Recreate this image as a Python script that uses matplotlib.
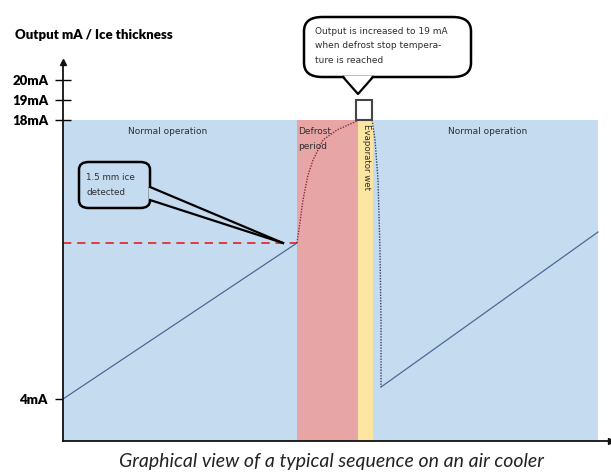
import matplotlib
matplotlib.use("Agg")
import matplotlib.pyplot as plt
from matplotlib.patches import FancyBboxPatch, Polygon, Rectangle

# ---------------- data ----------------
tick_values = [18, 19, 20]
tick_labels = ["18mA", "19mA", "20mA"]
low_tick_value = [4]
low_tick_label = ["4mA"]

# phases (time units, 0..100)
normal1 = (0.0, 43.74)
defrost = (43.74, 55.14)
evap_wet = (55.14, 57.94)
normal2 = (57.94, 100.0)
top_mA = 18

# ice detection level
ice_level = 11.83

# normal operation ramp 1
ramp1_t = [0.0, 43.74]
ramp1_mA = [4.0, 11.83]

# defrost rise (dotted)
defrost_t = [43.74, 44.30, 44.86, 45.79, 46.73, 48.60, 51.21, 54.95]
defrost_mA = [11.83, 12.88, 13.99, 15.24, 15.99, 17.0, 17.5, 17.95]

# 19 mA step
step_t = (54.77, 57.76)
step_mA = (18, 19)

# drop after wet period (dotted)
drop_t = [57.76, 58.32, 58.88, 59.25, 59.44, 59.44]
drop_mA = [18.0, 17.0, 14.99, 11.48, 7.97, 4.6]

# normal operation ramp 2
ramp2_t = [59.44, 100.0]
ramp2_mA = [4.6, 12.38]

# ---------------- style ----------------
W, H = 611, 474
blue = "#C5DBEF"
pink = "#E8A5A6"
yellow = "#FDE6A2"
font = "Lato"

fig = plt.figure(figsize=(W / 100, H / 100), dpi=100)
ax = fig.add_axes([63 / W, (H - 441) / H, (611 - 63) / W, (441 - 62) / H])
ax.set_xlim(0, 102.43)
ax.set_ylim(1.893, 20.91)
ybot = 1.893

# background bands
ax.fill_between(normal1, ybot, top_mA, color=blue, lw=0, zorder=0)
ax.fill_between(defrost, ybot, top_mA, color=pink, lw=0, zorder=0)
ax.fill_between(evap_wet, ybot, top_mA, color=yellow, lw=0, zorder=0)
ax.fill_between(normal2, ybot, top_mA, color=blue, lw=0, zorder=0)

# lines
ax.plot(ramp1_t, ramp1_mA, color="#4C6A95", lw=0.9, zorder=2)
ax.plot([0, normal1[1]], [ice_level, ice_level], color="#E32222", lw=1.2,
        dashes=(5, 3.5), zorder=2)
ax.plot(defrost_t, defrost_mA, color="#8A2C3A", lw=1.0, ls=(0, (1, 1)), zorder=3)
ax.add_patch(Rectangle((step_t[0], step_mA[0]), step_t[1] - step_t[0],
                       step_mA[1] - step_mA[0], fc="white", ec="#444444",
                       lw=1.5, zorder=3, clip_on=False))
ax.plot(drop_t, drop_mA, color="#34455E", lw=1.0, ls=(0, (1, 1)), zorder=3)
ax.plot(ramp2_t, ramp2_mA, color="#4C6A95", lw=0.9, zorder=2)

# axes styling
for s in ["top", "right"]:
    ax.spines[s].set_visible(False)
for s in ["left", "bottom"]:
    ax.spines[s].set_linewidth(1.3)
    ax.spines[s].set_color("#111111")
ax.plot(1, 0, ">", color="#111111", ms=4, transform=ax.transAxes, clip_on=False)
ax.plot(0, 1, "^", color="#111111", ms=4, transform=ax.transAxes, clip_on=False)
ax.set_xticks([])
ax.set_yticks(tick_values)
ax.set_yticklabels(tick_labels, fontfamily=font, fontweight="heavy", fontsize=9.5)
ax.set_yticks(low_tick_value, minor=True)
ax.set_yticklabels(low_tick_label, minor=True, fontfamily=font,
                   fontweight="heavy", fontsize=9.5)
ax.tick_params(axis="y", which="major", direction="inout", length=11, width=1,
               pad=5)
ax.tick_params(axis="y", which="minor", direction="out", length=6, width=1,
               pad=5)

# ---------------- text ----------------
def fx(x):
    return x / W

def fy(y):
    return 1 - y / H

fig.text(fx(15), fy(35), "Output mA / Ice thickness", fontfamily=font,
         fontweight="heavy", fontsize=9.5, va="center", ha="left")

txtc = "#2E2E2E"
fig.text(fx(168), fy(131), "Normal operation", fontfamily="DejaVu Sans",
         fontsize=6.5, color=txtc, ha="center", va="center")
fig.text(fx(488), fy(131), "Normal operation", fontfamily="DejaVu Sans",
         fontsize=6.5, color=txtc, ha="center", va="center")
fig.text(fx(298), fy(139), "Defrost\nperiod", fontfamily="DejaVu Sans",
         fontsize=6.5, color=txtc, ha="left", va="center", linespacing=1.9)
fig.text(fx(366), fy(124), "Evaporator wet", fontfamily="DejaVu Sans",
         fontsize=6.2, color=txtc, ha="center", va="top", rotation=-90)

fig.text(fx(331), fy(462), "Graphical view of a typical sequence on an air cooler",
         fontfamily=font, fontstyle="italic", fontsize=14, color="#222222",
         ha="center", va="center")

# callout 1 (ice detected)
tf = fig.transFigure
b1 = FancyBboxPatch((fx(79), fy(208)), fx(150) - fx(79), fy(162) - fy(208),
                    boxstyle="round,pad=0,rounding_size=0.016",
                    fc=blue, ec="black", lw=1.8, transform=tf, zorder=5)
fig.add_artist(b1)
p1 = Polygon([(fx(149), fy(187)), (fx(283), fy(243)), (fx(149), fy(200))],
             closed=True, fc=blue, ec="none", transform=tf, zorder=6)
fig.add_artist(p1)
fig.add_artist(plt.Line2D([fx(150), fx(283)], [fy(187), fy(243)], color="black",
                          lw=1.6, transform=tf, zorder=7))
fig.add_artist(plt.Line2D([fx(150), fx(283)], [fy(200), fy(243)], color="black",
                          lw=1.6, transform=tf, zorder=7))
fig.text(fx(86), fy(185), "1.5 mm ice\ndetected", fontfamily="DejaVu Sans",
         fontsize=6.3, color=txtc, ha="left", va="center", linespacing=1.9,
         zorder=8)

# callout 2 (19 mA)
b2 = FancyBboxPatch((fx(304), fy(77)), fx(471) - fx(304), fy(17) - fy(77),
                    boxstyle="round,pad=0,rounding_size=0.03",
                    fc="white", ec="black", lw=1.8, transform=tf, zorder=5)
fig.add_artist(b2)
p2 = Polygon([(fx(344), fy(76)), (fx(358), fy(94)), (fx(372), fy(76))],
             closed=True, fc="white", ec="none", transform=tf, zorder=6)
fig.add_artist(p2)
fig.add_artist(plt.Line2D([fx(343), fx(358), fx(373)], [fy(77), fy(94), fy(77)],
                          color="black", lw=1.6, transform=tf, zorder=7))
fig.text(fx(315), fy(46), "Output is increased to 19 mA\nwhen defrost stop tempera-\nture is reached",
         fontfamily="DejaVu Sans", fontsize=6.5, color=txtc, ha="left",
         va="center", linespacing=1.8, zorder=8)

fig.savefig("out.png", dpi=100)
